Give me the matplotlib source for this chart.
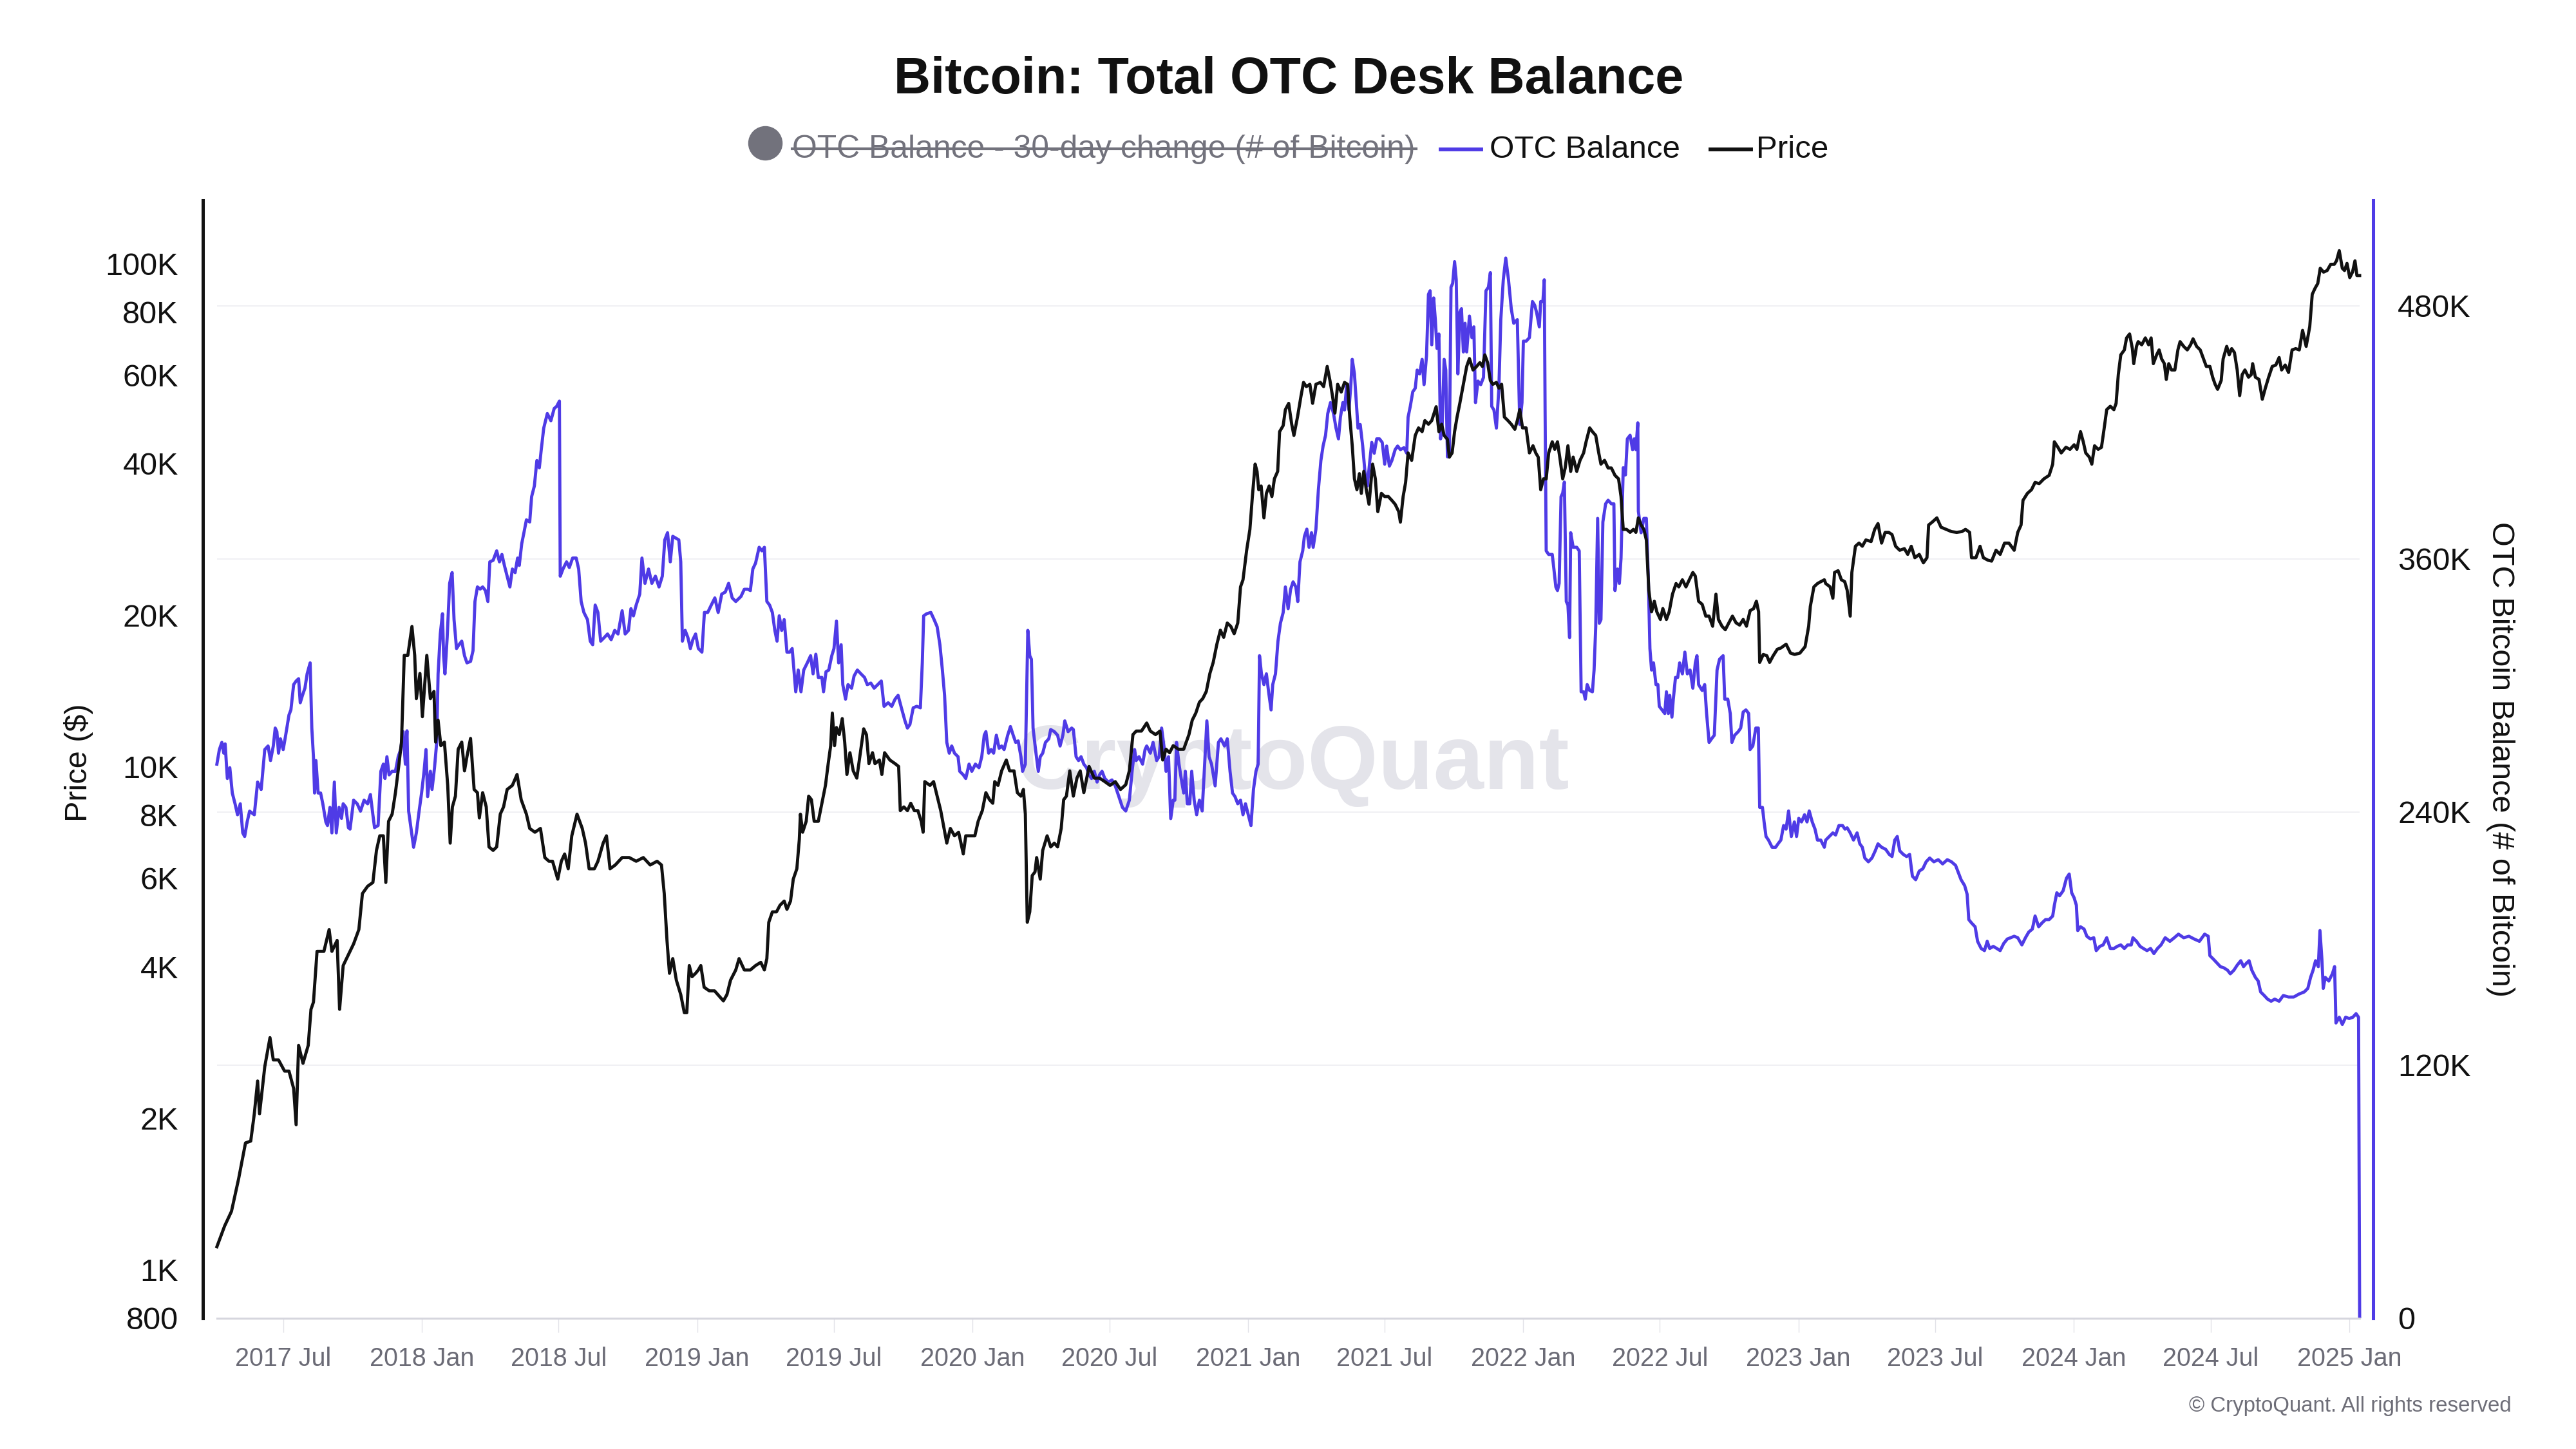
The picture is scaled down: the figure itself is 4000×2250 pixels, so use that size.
import matplotlib
matplotlib.use("Agg")
import matplotlib.pyplot as plt
import matplotlib.dates as mdates
from matplotlib.lines import Line2D
from matplotlib.ticker import FixedLocator, NullLocator
import pandas as pd

plt.rcParams['font.family'] = ['Liberation Sans', 'DejaVu Sans']

# ---------------------------------------------------------------- data
# time as decimal years
price_year = [
    2017.254, 2017.282, 2017.307, 2017.333, 2017.358, 2017.377, 2017.390, 2017.402, 2017.409, 2017.428,
    2017.447, 2017.459, 2017.478, 2017.500, 2017.516, 2017.533, 2017.542, 2017.551, 2017.567, 2017.586,
    2017.596, 2017.605, 2017.618, 2017.643, 2017.662, 2017.672, 2017.691, 2017.700, 2017.713, 2017.738,
    2017.751, 2017.770, 2017.783, 2017.802, 2017.821, 2017.834, 2017.846, 2017.859, 2017.868, 2017.878,
    2017.891, 2017.903, 2017.916, 2017.925, 2017.935, 2017.948, 2017.963, 2017.973, 2017.979, 2017.992,
    2018.001, 2018.017, 2018.030, 2018.043, 2018.049, 2018.058, 2018.068, 2018.081, 2018.093, 2018.102,
    2018.110, 2018.121, 2018.131, 2018.144, 2018.154, 2018.163, 2018.176, 2018.189, 2018.201, 2018.208,
    2018.220, 2018.233, 2018.243, 2018.258, 2018.271, 2018.284, 2018.296, 2018.309, 2018.328, 2018.345,
    2018.360, 2018.379, 2018.391, 2018.410, 2018.430, 2018.446, 2018.461, 2018.474, 2018.493, 2018.506,
    2018.518, 2018.531, 2018.544, 2018.563, 2018.582, 2018.594, 2018.607, 2018.626, 2018.639, 2018.658,
    2018.670, 2018.683, 2018.702, 2018.727, 2018.753, 2018.778, 2018.804, 2018.829, 2018.854, 2018.870,
    2018.880, 2018.890, 2018.899, 2018.911, 2018.924, 2018.940, 2018.953, 2018.962, 2018.971, 2018.981,
    2018.994, 2019.004, 2019.013, 2019.025, 2019.044, 2019.063, 2019.095, 2019.108, 2019.121, 2019.140,
    2019.152, 2019.171,
    2019.193, 2019.212, 2019.231, 2019.244, 2019.253, 2019.260, 2019.273, 2019.288, 2019.301, 2019.316,
    2019.326, 2019.339, 2019.349, 2019.362, 2019.371, 2019.375, 2019.383, 2019.396, 2019.405, 2019.415,
    2019.425, 2019.440, 2019.453, 2019.466, 2019.476, 2019.485, 2019.491, 2019.499, 2019.506, 2019.516,
    2019.527, 2019.536, 2019.544, 2019.555, 2019.567, 2019.580, 2019.593, 2019.605, 2019.615, 2019.624,
    2019.637, 2019.646, 2019.662, 2019.671, 2019.681, 2019.700, 2019.719, 2019.732, 2019.738, 2019.751,
    2019.764, 2019.776, 2019.789, 2019.802, 2019.814, 2019.821, 2019.827, 2019.846, 2019.859, 2019.872,
    2019.885, 2019.897, 2019.907, 2019.920, 2019.935, 2019.950, 2019.967, 2019.976, 2019.992, 2020.009,
    2020.021, 2020.036, 2020.049, 2020.062, 2020.074, 2020.081, 2020.093, 2020.106, 2020.123, 2020.135,
    2020.151, 2020.163, 2020.176, 2020.185, 2020.192, 2020.199, 2020.208, 2020.217, 2020.227, 2020.233,
    2020.246, 2020.255, 2020.271, 2020.284, 2020.297, 2020.309, 2020.322, 2020.331, 2020.341, 2020.353,
    2020.366, 2020.379, 2020.391, 2020.404, 2020.423, 2020.442, 2020.461, 2020.480, 2020.499, 2020.518,
    2020.537, 2020.556, 2020.569, 2020.582, 2020.594, 2020.613, 2020.632, 2020.645, 2020.664, 2020.680,
    2020.690, 2020.702, 2020.715, 2020.728, 2020.747, 2020.766, 2020.785, 2020.797, 2020.810, 2020.823,
    2020.835, 2020.848, 2020.861, 2020.873, 2020.886, 2020.899, 2020.911, 2020.924, 2020.937, 2020.949,
    2020.962, 2020.972, 2020.981, 2020.994, 2021.006, 2021.015, 2021.025, 2021.032, 2021.038, 2021.047,
    2021.057, 2021.066, 2021.076, 2021.086, 2021.095, 2021.107, 2021.114, 2021.127,
    2021.135, 2021.147, 2021.158, 2021.166, 2021.179, 2021.192, 2021.201, 2021.211, 2021.224, 2021.234,
    2021.246, 2021.262, 2021.274, 2021.287, 2021.297, 2021.306, 2021.315, 2021.325, 2021.338, 2021.350,
    2021.361, 2021.369, 2021.378, 2021.386, 2021.395, 2021.404, 2021.411, 2021.420, 2021.429, 2021.439,
    2021.452, 2021.462, 2021.471, 2021.484, 2021.496, 2021.509, 2021.522, 2021.534, 2021.547, 2021.553,
    2021.563, 2021.572, 2021.581, 2021.594, 2021.607, 2021.619, 2021.632, 2021.642, 2021.655, 2021.667,
    2021.683, 2021.693, 2021.703, 2021.712, 2021.724, 2021.731, 2021.741, 2021.750, 2021.759, 2021.769,
    2021.782, 2021.794, 2021.804, 2021.817, 2021.830, 2021.842, 2021.851, 2021.860, 2021.870, 2021.880,
    2021.889, 2021.902, 2021.911, 2021.921, 2021.931, 2021.944, 2021.956, 2021.969, 2021.978, 2021.987,
    2021.997, 2022.010, 2022.022, 2022.035, 2022.045, 2022.054, 2022.063, 2022.073, 2022.083, 2022.092,
    2022.105, 2022.114, 2022.124, 2022.134, 2022.143, 2022.152, 2022.162, 2022.172, 2022.181, 2022.194,
    2022.206, 2022.219, 2022.228, 2022.241, 2022.251, 2022.263, 2022.274, 2022.282, 2022.295, 2022.308,
    2022.320, 2022.333, 2022.346, 2022.355, 2022.363, 2022.375, 2022.388, 2022.400, 2022.409, 2022.418,
    2022.428, 2022.438, 2022.447, 2022.456, 2022.466, 2022.476, 2022.485, 2022.498, 2022.507, 2022.520,
    2022.530, 2022.542, 2022.555, 2022.565, 2022.578, 2022.591, 2022.603, 2022.616, 2022.625, 2022.637,
    2022.650, 2022.663, 2022.675, 2022.688, 2022.700, 2022.709, 2022.722, 2022.734, 2022.747, 2022.760,
    2022.773, 2022.786, 2022.799, 2022.811, 2022.824, 2022.837, 2022.847, 2022.855, 2022.859, 2022.872,
    2022.885, 2022.895, 2022.908, 2022.923, 2022.936, 2022.955, 2022.971, 2022.986, 2023.005, 2023.024,
    2023.037, 2023.043, 2023.056, 2023.069, 2023.081, 2023.094,
    2023.099, 2023.115, 2023.125, 2023.131, 2023.144, 2023.156, 2023.168, 2023.177, 2023.188, 2023.194,
    2023.207, 2023.220, 2023.232, 2023.245, 2023.264, 2023.277, 2023.289, 2023.302, 2023.315, 2023.328,
    2023.340, 2023.353, 2023.368, 2023.385, 2023.397, 2023.410, 2023.423, 2023.439, 2023.454, 2023.467,
    2023.473, 2023.486, 2023.503, 2023.518, 2023.537, 2023.556, 2023.575, 2023.594, 2023.607, 2023.622,
    2023.629, 2023.645, 2023.660, 2023.672, 2023.689, 2023.702, 2023.718, 2023.733, 2023.749, 2023.765,
    2023.784, 2023.797, 2023.809, 2023.816, 2023.832, 2023.847, 2023.860, 2023.875, 2023.892, 2023.911,
    2023.924, 2023.930, 2023.943, 2023.955, 2023.972, 2023.987, 2024.002, 2024.012, 2024.025, 2024.035,
    2024.044, 2024.057, 2024.066, 2024.076, 2024.089, 2024.101, 2024.111, 2024.120, 2024.133, 2024.146,
    2024.154, 2024.162, 2024.171, 2024.184, 2024.192, 2024.203, 2024.213, 2024.218, 2024.228, 2024.234,
    2024.247, 2024.260, 2024.272, 2024.281, 2024.289, 2024.301, 2024.310, 2024.319, 2024.329, 2024.336,
    2024.345, 2024.355, 2024.367, 2024.378, 2024.386, 2024.399, 2024.412, 2024.424, 2024.433, 2024.446,
    2024.459, 2024.469, 2024.481, 2024.494, 2024.504, 2024.513, 2024.522, 2024.535, 2024.542, 2024.555,
    2024.564, 2024.573, 2024.583, 2024.593, 2024.602, 2024.611, 2024.621, 2024.634, 2024.644, 2024.649,
    2024.659, 2024.672, 2024.684, 2024.695, 2024.707, 2024.720, 2024.733, 2024.745, 2024.754, 2024.767,
    2024.779, 2024.792, 2024.805, 2024.818, 2024.830, 2024.843, 2024.856, 2024.865, 2024.875, 2024.885,
    2024.894, 2024.906, 2024.919, 2024.932, 2024.945, 2024.953, 2024.963, 2024.974, 2024.982, 2024.991,
    2025.001, 2025.011, 2025.020, 2025.027, 2025.037,
]
price_usd = [
    1110, 1220, 1305, 1515, 1785, 1800, 2040, 2370, 2040, 2530,
    2890, 2610, 2610, 2480, 2480, 2290, 1940, 2790, 2570, 2790,
    3290, 3400, 4290, 4290, 4740, 4290, 4510, 3290, 4020, 4290,
    4440, 4740, 5590, 5780, 5880, 6810, 7280, 7280, 5880, 7780,
    8040, 8870, 10130, 11180, 16630, 16630, 18980, 16630, 13640, 15310,
    12560, 16630, 13640, 14100, 11180, 12360, 11000, 11180, 9170, 7040,
    8310, 8730, 10820, 11180, 9800, 10470, 11370, 9000, 8870, 7900,
    8870, 8310, 6920, 6810, 6920, 8040, 8310, 9000, 9170, 9640,
    8590, 8040, 7530, 7400, 7530, 6590, 6480, 6480, 5970, 6480,
    6700, 6260, 7280, 8040, 7530, 7040, 6260, 6260, 6480, 7040,
    7280, 6260, 6370, 6590, 6590, 6480, 6590, 6370, 6480, 6370,
    5590, 4510, 3880, 4150, 3760, 3520, 3240, 3240, 4020, 3820,
    3880, 3940, 4020, 3640, 3580, 3580, 3420, 3520, 3760, 3940,
    4150, 3940,
    3940, 4020, 4080, 3940, 4150, 4900, 5140, 5140, 5300, 5400,
    5200, 5400, 5970, 6260, 7160, 8040, 7400, 7780, 8730, 8590,
    7780, 7780, 8450, 9170, 10130, 11000, 12770, 11000, 11950, 11570,
    12450, 11180, 9640, 10650, 9800, 9480, 10650, 11880, 11570, 10130,
    10650, 10130, 10300, 9640, 10650, 10300, 10130, 10000, 8170, 8310,
    8170, 8450, 8170, 8170, 7780, 7400, 9330, 9170, 9330, 8730,
    8170, 7530, 7040, 7530, 7280, 7400, 6700, 7280, 7280, 7280,
    7780, 8170, 8870, 8590, 8450, 9330, 9170, 9800, 10300, 9800,
    9800, 8870, 8730, 9000, 8040, 4900, 5140, 6070, 6170, 6590,
    5970, 6810, 7280, 6920, 7040, 6920, 7530, 8590, 8730, 9800,
    8730, 9480, 9800, 8870, 10000, 9480, 9480, 9330, 9170, 9330,
    9000, 9200, 9800, 11570, 11760, 11760, 12200, 11760, 11570, 11760,
    10300, 10820, 10650, 11000, 10820, 10820, 11570, 12360, 12770, 13420,
    13640, 14100, 15310, 16100, 17470, 18660, 18060, 19280, 18980, 18360,
    19280, 22750, 23500, 26850, 29600, 34400, 39900, 38600, 35500, 36100,
    31200, 34900, 36100, 34400, 37300, 38600, 46300, 47600,
    51200, 52700, 47900, 45500, 49500, 54600, 58000, 56900, 57500, 52700,
    57500, 58000, 56900, 62400, 58500, 54600, 50400, 57500, 55500, 58000,
    57500, 49500, 43400, 37300, 35500, 38200, 34900, 38600, 35500, 33200,
    39900, 37300, 32100, 34900, 34400, 34400, 33800, 33200, 32100, 30600,
    34400, 36700, 42000, 40600, 45500, 47100, 46300, 48700, 47900, 48700,
    51900, 46300, 47900, 45500, 44700, 41200, 42000, 46300, 49500, 52700,
    57500, 62400, 64700, 61400, 62400, 63500, 62400, 65800, 63500, 58500,
    57500, 58000, 56500, 57500, 49500, 48700, 47900, 46800, 48700, 51200,
    47100, 47100, 42000, 43400, 42000, 41200, 35500, 37300, 37300, 42000,
    44200, 42700, 44200, 40600, 37300, 39200, 43400, 38600, 41200, 38600,
    40600, 42000, 44200, 47100, 46300, 45500, 42000, 39900, 40600, 39200,
    39200, 37900, 37300, 34400, 29600, 29600, 29200, 29600, 29200, 31200,
    30200, 29600, 28200, 22400, 20300, 21300, 20300, 19600, 20600, 19600,
    20300, 22000, 23100, 22750, 23500, 22750, 23500, 24300, 23900, 21300,
    21000, 19900, 19900, 19000, 22000, 19600, 19000, 18700, 19300, 19900,
    19300, 19100, 19600, 19000, 20400, 20600, 21300, 20300, 16100, 16700,
    16600, 16100, 16600, 17100, 17200, 17500, 16800, 16700, 16800, 17300,
    19000, 20800, 22750, 23100, 23300, 23500,
    23100, 22750, 21600, 24300, 24500, 23500, 23300, 22400, 19900, 24300,
    27400, 27800, 27400, 28200, 28000, 29600, 30400, 27800, 29200, 29200,
    28900, 27400, 26900, 27100, 26400, 27400, 26000, 26400, 25400, 26000,
    30200, 30600, 31200, 29900, 29600, 29300, 29200, 29300, 29600, 29200,
    26000, 26000, 27400, 26000, 25700, 25600, 26900, 26400, 27800, 27800,
    26900, 29200, 30200, 33800, 34900, 35500, 36700, 36500, 37300, 37900,
    39900, 44200, 43100, 42000, 43100, 42700, 43600, 42700, 46300, 44200,
    42000, 41200, 39900, 43400, 42700, 43100, 47100, 51200, 52000, 51200,
    52700, 60100, 65800, 67300, 71100, 72400, 67700, 63200, 68400, 69900,
    68900, 71100, 68900, 71100, 63200, 65800, 67300, 64600, 63200, 58800,
    63200, 61400, 61400, 67300, 69900, 68400, 67300, 68900, 70800, 68400,
    67300, 65000, 62400, 62400, 59400, 57500, 56200, 58500, 64600, 68400,
    65800, 67700, 66500, 61400, 54600, 60100, 61400, 59400, 60100, 63200,
    59400, 58800, 53700, 56500, 59400, 62400, 62800, 65000, 61400, 62800,
    60700, 67300, 67700, 67300, 73600, 68400, 74900, 86800, 89200, 91200,
    97800, 96100, 96800, 99600, 99600, 101200, 106000, 97800, 96800, 100000,
    93700, 96100, 101200, 94600, 94600,
]

otc_year = [
    2017.254, 2017.263, 2017.272, 2017.279, 2017.284, 2017.292, 2017.301, 2017.310, 2017.320, 2017.329,
    2017.339, 2017.348, 2017.355, 2017.364, 2017.373, 2017.390, 2017.402, 2017.415, 2017.428, 2017.440,
    2017.449, 2017.459, 2017.466, 2017.472, 2017.478, 2017.485, 2017.495, 2017.504, 2017.516, 2017.523,
    2017.533, 2017.542, 2017.551, 2017.557, 2017.565, 2017.574, 2017.582, 2017.593, 2017.599, 2017.605,
    2017.609, 2017.614, 2017.622, 2017.631, 2017.639, 2017.650, 2017.656, 2017.665, 2017.672, 2017.681,
    2017.688, 2017.698, 2017.707, 2017.713, 2017.723, 2017.732, 2017.738, 2017.751, 2017.764, 2017.776,
    2017.789, 2017.802, 2017.812, 2017.821, 2017.827, 2017.840, 2017.850, 2017.859, 2017.865, 2017.872,
    2017.880, 2017.891, 2017.903, 2017.913, 2017.922, 2017.931, 2017.939, 2017.945, 2017.951, 2017.960,
    2017.969, 2017.979, 2017.989, 2017.998, 2018.007, 2018.014, 2018.020, 2018.030, 2018.036, 2018.045,
    2018.053, 2018.058, 2018.066, 2018.074, 2018.078, 2018.083, 2018.091, 2018.100, 2018.109, 2018.116,
    2018.125, 2018.134, 2018.144, 2018.154, 2018.163, 2018.176, 2018.185, 2018.192, 2018.201, 2018.211,
    2018.220, 2018.230, 2018.239, 2018.246, 2018.258, 2018.271, 2018.281, 2018.290, 2018.299, 2018.309,
    2018.319, 2018.328, 2018.338, 2018.347, 2018.353, 2018.362, 2018.370, 2018.379, 2018.391, 2018.398,
    2018.408, 2018.417, 2018.426, 2018.433, 2018.442, 2018.455, 2018.468, 2018.480, 2018.489, 2018.499,
    2018.502, 2018.512, 2018.525, 2018.535, 2018.547, 2018.560, 2018.569, 2018.578, 2018.588, 2018.601,
    2018.611, 2018.620, 2018.629, 2018.639, 2018.649, 2018.662, 2018.674, 2018.687, 2018.700, 2018.712,
    2018.727, 2018.738, 2018.750, 2018.759, 2018.768, 2018.778, 2018.791, 2018.799, 2018.810, 2018.823,
    2018.835, 2018.848, 2018.861, 2018.873, 2018.882, 2018.892, 2018.902, 2018.911, 2018.924, 2018.933,
    2018.940, 2018.946, 2018.956, 2018.966, 2018.975, 2018.984, 2018.994, 2019.004, 2019.017, 2019.026,
    2019.038, 2019.051, 2019.064, 2019.076, 2019.089, 2019.102, 2019.114, 2019.127, 2019.140, 2019.159,
    2019.171,
    2019.184, 2019.193, 2019.202, 2019.212, 2019.225, 2019.235, 2019.244, 2019.253, 2019.263, 2019.273,
    2019.282, 2019.290, 2019.298, 2019.307, 2019.316, 2019.326, 2019.336, 2019.345, 2019.358, 2019.367,
    2019.377, 2019.387, 2019.400, 2019.412, 2019.421, 2019.431, 2019.440, 2019.453, 2019.459, 2019.468,
    2019.478, 2019.489, 2019.497, 2019.506, 2019.514, 2019.523, 2019.529, 2019.539, 2019.548, 2019.561,
    2019.570, 2019.582, 2019.595, 2019.608, 2019.618, 2019.631, 2019.643, 2019.656, 2019.669, 2019.679,
    2019.694, 2019.707, 2019.719, 2019.730, 2019.742, 2019.755, 2019.764, 2019.773, 2019.785, 2019.798,
    2019.811, 2019.818, 2019.823, 2019.834, 2019.849, 2019.861, 2019.872, 2019.882, 2019.891, 2019.899,
    2019.907, 2019.916, 2019.925, 2019.935, 2019.948, 2019.954, 2019.967, 2019.976, 2019.988, 2019.998,
    2020.011, 2020.024, 2020.034, 2020.043, 2020.049, 2020.059, 2020.068, 2020.077, 2020.087, 2020.097,
    2020.106, 2020.115, 2020.128, 2020.138, 2020.148, 2020.157, 2020.166, 2020.176, 2020.182, 2020.192,
    2020.201, 2020.208, 2020.214, 2020.220, 2020.229, 2020.239, 2020.246, 2020.255, 2020.265, 2020.277,
    2020.284, 2020.297, 2020.309, 2020.318, 2020.328, 2020.335, 2020.347, 2020.360, 2020.366, 2020.376,
    2020.385, 2020.394, 2020.404, 2020.414, 2020.423, 2020.432, 2020.442, 2020.452, 2020.461, 2020.470,
    2020.480, 2020.493, 2020.506, 2020.518, 2020.531, 2020.544, 2020.556, 2020.569, 2020.579, 2020.588,
    2020.594, 2020.604, 2020.617, 2020.626, 2020.632, 2020.645, 2020.655, 2020.668, 2020.677, 2020.686,
    2020.696, 2020.702, 2020.711, 2020.719, 2020.728, 2020.734, 2020.740, 2020.749, 2020.757, 2020.766,
    2020.772, 2020.779, 2020.788, 2020.795, 2020.804, 2020.813, 2020.823, 2020.833, 2020.842, 2020.850,
    2020.858, 2020.867, 2020.880, 2020.892, 2020.901, 2020.914, 2020.924, 2020.934, 2020.943, 2020.952,
    2020.962, 2020.972, 2020.981, 2020.990, 2021.000, 2021.010, 2021.019, 2021.028, 2021.036, 2021.041,
    2021.048, 2021.057, 2021.066, 2021.074, 2021.083, 2021.089, 2021.099, 2021.108, 2021.117, 2021.127,
    2021.135, 2021.145, 2021.154, 2021.163, 2021.173, 2021.180, 2021.188, 2021.198, 2021.204, 2021.213,
    2021.221, 2021.230, 2021.236, 2021.246, 2021.255, 2021.264, 2021.272, 2021.281, 2021.289, 2021.299,
    2021.310, 2021.319, 2021.328, 2021.335, 2021.344, 2021.350, 2021.358, 2021.366, 2021.373, 2021.378,
    2021.386, 2021.392, 2021.399, 2021.407, 2021.416, 2021.424, 2021.433, 2021.442, 2021.449, 2021.458,
    2021.467, 2021.477, 2021.487, 2021.496, 2021.503, 2021.513, 2021.522, 2021.534, 2021.543, 2021.553,
    2021.566, 2021.576, 2021.581, 2021.589, 2021.598, 2021.607, 2021.614, 2021.623, 2021.632, 2021.639,
    2021.648, 2021.655, 2021.661, 2021.667, 2021.674, 2021.680, 2021.686, 2021.693, 2021.699, 2021.705,
    2021.712, 2021.718, 2021.724, 2021.731, 2021.737, 2021.743, 2021.750, 2021.756, 2021.762, 2021.769,
    2021.775, 2021.782, 2021.788, 2021.794, 2021.804, 2021.813, 2021.820, 2021.826, 2021.835, 2021.845,
    2021.855, 2021.864, 2021.873, 2021.880, 2021.885, 2021.893, 2021.902, 2021.911, 2021.918, 2021.927,
    2021.936, 2021.946, 2021.956, 2021.965, 2021.978, 2021.987, 2021.995, 2022.000, 2022.010, 2022.022,
    2022.033, 2022.041, 2022.048, 2022.058, 2022.063, 2022.071, 2022.076, 2022.079, 2022.083, 2022.092,
    2022.105, 2022.111, 2022.118, 2022.124, 2022.130, 2022.137, 2022.143, 2022.149, 2022.156, 2022.162,
    2022.168, 2022.172, 2022.181, 2022.194, 2022.203, 2022.210, 2022.219, 2022.225, 2022.232, 2022.241,
    2022.251, 2022.257, 2022.263, 2022.270, 2022.276, 2022.282, 2022.289, 2022.299, 2022.308, 2022.320,
    2022.329, 2022.333, 2022.342, 2022.349, 2022.355, 2022.363, 2022.371, 2022.378, 2022.388, 2022.397,
    2022.403, 2022.409, 2022.416, 2022.418, 2022.428, 2022.438, 2022.447, 2022.454, 2022.460, 2022.466,
    2022.473, 2022.482, 2022.489, 2022.494, 2022.504, 2022.514, 2022.520, 2022.527, 2022.532, 2022.540,
    2022.545, 2022.553, 2022.561, 2022.568, 2022.578, 2022.587, 2022.596, 2022.606, 2022.616, 2022.625,
    2022.631, 2022.637, 2022.650, 2022.659, 2022.666, 2022.675, 2022.684, 2022.694, 2022.704, 2022.713,
    2022.726, 2022.732, 2022.743, 2022.752, 2022.758, 2022.768, 2022.781, 2022.790, 2022.799, 2022.809,
    2022.819, 2022.824, 2022.834, 2022.845, 2022.854, 2022.859, 2022.869, 2022.875, 2022.882, 2022.891,
    2022.904, 2022.917, 2022.926, 2022.936, 2022.946, 2022.955, 2022.964, 2022.974, 2022.985, 2022.993,
    2023.001, 2023.011, 2023.022, 2023.031, 2023.039, 2023.050, 2023.060, 2023.069, 2023.081, 2023.094,
    2023.099, 2023.112, 2023.125, 2023.135, 2023.147, 2023.160, 2023.169, 2023.177, 2023.188, 2023.200,
    2023.213, 2023.223, 2023.232, 2023.241, 2023.254, 2023.267, 2023.279, 2023.289, 2023.302, 2023.317,
    2023.330, 2023.340, 2023.350, 2023.359, 2023.368, 2023.381, 2023.393, 2023.404, 2023.414, 2023.426,
    2023.439, 2023.452, 2023.464, 2023.477, 2023.492, 2023.508, 2023.524, 2023.541, 2023.556, 2023.571,
    2023.581, 2023.591, 2023.604, 2023.613, 2023.619, 2023.629, 2023.642, 2023.651, 2023.664, 2023.676,
    2023.686, 2023.695, 2023.708, 2023.721, 2023.733, 2023.746, 2023.759, 2023.771, 2023.784, 2023.797,
    2023.812, 2023.825, 2023.837, 2023.850, 2023.860, 2023.873, 2023.885, 2023.898, 2023.911, 2023.924,
    2023.930, 2023.939, 2023.949, 2023.962, 2023.974, 2023.984, 2023.993, 2024.002, 2024.010, 2024.015,
    2024.025, 2024.038, 2024.048, 2024.061, 2024.073, 2024.082, 2024.095, 2024.107, 2024.120, 2024.133,
    2024.146, 2024.158, 2024.171, 2024.184, 2024.196, 2024.209, 2024.215, 2024.228, 2024.241, 2024.253,
    2024.266, 2024.279, 2024.291, 2024.304, 2024.317, 2024.332, 2024.349, 2024.365, 2024.380, 2024.399,
    2024.418, 2024.437, 2024.456, 2024.475, 2024.488, 2024.494, 2024.507, 2024.520, 2024.532, 2024.545,
    2024.558, 2024.568, 2024.581, 2024.593, 2024.606, 2024.616, 2024.627, 2024.636, 2024.646, 2024.659,
    2024.669, 2024.678, 2024.691, 2024.703, 2024.716, 2024.729, 2024.745, 2024.760, 2024.779, 2024.798,
    2024.817, 2024.836, 2024.849, 2024.859, 2024.868, 2024.877, 2024.887, 2024.893, 2024.900, 2024.905,
    2024.912, 2024.925, 2024.938, 2024.946, 2024.951, 2024.963, 2024.974, 2024.986, 2024.999, 2025.012,
    2025.024, 2025.033, 2025.037,
]
otc_btc = [
    262.7, 269.6, 273.0, 267.9, 272.3, 255.9, 261.0, 249.0, 243.9, 238.7,
    243.9, 230.1, 228.4, 235.3, 240.4, 238.7, 254.2, 250.7, 269.6, 271.3,
    264.4, 271.3, 279.8, 278.1, 267.9, 274.7, 269.6, 276.4, 286.0, 288.4,
    300.4, 302.1, 303.2, 291.8, 295.3, 298.7, 305.5, 310.7, 279.8, 266.2,
    249.0, 264.4, 249.0, 249.0, 243.9, 235.3, 233.6, 242.2, 230.1, 254.2,
    230.1, 242.2, 237.0, 243.9, 242.2, 232.6, 231.9, 245.6, 243.9, 240.4,
    245.6, 243.9, 248.3, 238.7, 232.6, 233.6, 259.3, 262.7, 255.9, 266.2,
    257.6, 259.3, 259.3, 266.2, 269.6, 278.1, 262.7, 278.5, 240.4, 231.9,
    223.3, 230.1, 240.4, 249.0, 259.3, 269.6, 247.3, 259.3, 250.7, 261.0,
    273.0, 305.5, 324.4, 334.0, 314.1, 305.5, 322.7, 348.4, 353.5, 331.2,
    317.5, 319.3, 321.0, 314.1, 310.7, 311.4, 316.5, 339.8, 346.7, 345.7,
    346.7, 345.0, 339.8, 358.6, 359.3, 363.8, 358.6, 362.1, 356.9, 351.8,
    346.7, 355.2, 353.5, 360.4, 356.9, 367.2, 372.4, 378.5, 377.5, 389.5,
    394.6, 406.6, 403.2, 411.8, 422.0, 428.9, 425.5, 431.3, 432.3, 434.8,
    351.8, 355.2, 358.6, 355.9, 360.4, 360.4, 355.2, 339.8, 334.6, 331.2,
    321.0, 319.3, 338.1, 334.6, 321.0, 322.7, 324.4, 321.7, 326.1, 324.4,
    335.4, 324.4, 326.1, 336.4, 333.0, 338.1, 343.3, 360.4, 348.4, 355.2,
    348.4, 351.8, 346.7, 351.8, 369.0, 372.4, 358.6, 370.7, 369.7, 369.0,
    358.6, 321.0, 326.1, 322.7, 317.5, 321.7, 324.4, 317.5, 315.8, 334.6,
    334.6, 338.1, 341.5, 334.6, 343.3, 344.3, 348.4, 341.5, 339.8, 342.2,
    345.6,
    345.6, 345.0, 355.2, 358.0, 365.5, 363.8, 365.5, 339.8, 338.1, 334.6,
    326.1, 321.0, 333.0, 326.1, 331.2, 315.8, 315.8, 317.5, 297.0, 307.3,
    297.0, 307.3, 310.7, 314.1, 305.5, 314.8, 303.8, 303.8, 297.0, 306.5,
    307.3, 314.1, 317.5, 330.5, 310.7, 319.3, 300.4, 293.5, 300.4, 298.7,
    304.5, 307.3, 305.5, 303.8, 300.4, 301.1, 298.7, 300.4, 302.1, 290.1,
    291.8, 290.1, 293.5, 295.3, 289.4, 283.2, 279.8, 281.5, 289.4, 290.1,
    289.4, 310.7, 333.0, 334.0, 334.6, 331.2, 327.8, 319.3, 307.3, 295.3,
    273.0, 267.9, 271.3, 267.9, 266.2, 259.3, 257.6, 255.9, 262.7, 259.3,
    262.7, 261.0, 266.2, 276.4, 278.1, 267.9, 269.6, 267.9, 276.4, 270.2,
    271.3, 269.6, 276.4, 280.5, 276.4, 273.0, 273.7, 266.2, 259.3, 262.7,
    326.1, 314.1, 312.4, 279.8, 269.6, 259.3, 266.2, 267.9, 273.0, 274.7,
    279.1, 278.1, 276.4, 271.3, 276.4, 283.2, 278.1, 279.8, 279.1, 266.2,
    264.4, 266.2, 262.7, 261.0, 257.6, 255.9, 259.3, 254.2, 257.6, 259.3,
    255.9, 254.2, 255.2, 252.4, 247.3, 242.2, 240.5, 245.6, 259.3, 269.6,
    264.4, 266.2, 262.7, 269.6, 271.3, 267.9, 273.0, 264.4, 266.2, 279.8,
    269.6, 259.3, 266.2, 236.9, 245.6, 245.6, 273.0, 262.7, 255.9, 249.0,
    259.3, 243.9, 243.9, 259.3, 245.6, 238.7, 245.6, 240.5, 262.7, 283.2,
    266.2, 262.7, 252.4, 273.0, 274.7, 271.3, 274.7, 259.3, 249.0, 247.3,
    243.9, 245.6, 238.7, 243.9, 238.7, 233.6, 250.7, 259.3, 262.7, 314.1,
    305.5, 300.4, 305.5, 297.0, 288.4, 300.4, 305.5, 321.0, 329.5, 334.6,
    346.7, 336.4, 345.6, 349.1, 346.7, 339.8, 358.6, 363.8, 370.6, 374.1,
    365.5, 372.4, 365.5, 374.1, 392.9, 406.6, 413.5, 418.6, 428.9, 434.1,
    428.9, 422.0, 416.9, 427.2, 434.1, 430.6, 442.6, 430.6, 442.6, 454.6,
    447.7, 435.8, 422.0, 423.7, 413.5, 401.5, 394.6, 406.6, 415.2, 410.1,
    416.9, 416.9, 415.2, 404.9, 413.5, 404.0, 406.6, 411.8, 413.5, 411.8,
    412.7, 410.1, 427.2, 432.3, 439.2, 440.9, 449.5, 447.7, 454.6, 442.6,
    456.3, 485.4, 487.1, 461.5, 483.7, 473.4, 459.8, 466.6, 416.9, 423.7,
    454.6, 449.5, 408.4, 410.1, 488.8, 490.6, 500.9, 492.3, 447.7, 476.9,
    478.6, 458.1, 471.7, 458.1, 475.1, 464.9, 470.0, 434.1, 444.3, 442.6,
    446.0, 487.1, 488.8, 495.7, 432.3, 430.6, 422.0, 440.9, 473.4, 492.3,
    502.6, 492.3, 478.6, 471.7, 473.4, 423.7, 434.1, 463.2, 463.2, 464.9,
    482.0, 480.3, 476.9, 470.0, 482.0, 482.0, 492.3, 430.6, 363.8, 362.1,
    362.1, 355.2, 346.7, 345.0, 348.4, 389.5, 391.2, 396.4, 339.8, 338.1,
    322.7, 372.4, 365.5, 365.5, 363.8, 297.0, 297.0, 293.5, 300.4, 297.6,
    297.0, 307.3, 327.8, 379.2, 329.5, 331.2, 377.5, 386.1, 387.8, 386.1,
    386.1, 345.0, 355.2, 348.4, 360.4, 403.2, 399.8, 416.9, 418.6, 411.8,
    416.9, 411.8, 424.5, 382.6, 372.4, 379.2, 379.2, 351.8, 317.5, 307.3,
    310.7, 300.4, 300.4, 290.1, 288.4, 286.7, 297.0, 286.7, 295.3, 285.0,
    293.5, 303.8, 303.8, 310.7, 305.5, 315.8, 305.5, 307.3, 298.7, 310.7,
    314.1, 300.4, 297.6, 300.4, 286.7, 273.0, 274.7, 276.4, 307.3, 312.4,
    314.1, 293.5, 293.5, 286.7, 273.0, 276.4, 278.1, 279.8, 287.4, 288.4,
    286.7, 269.6, 271.3, 279.8, 279.8, 242.2, 242.2, 235.3, 228.4, 226.7,
    223.3, 223.3, 225.0, 226.7, 233.6, 231.9, 240.5, 228.4, 235.3, 228.4,
    237.0, 235.3, 238.7, 235.3, 240.5, 235.3, 231.9, 226.7, 226.7, 223.3,
    226.7, 228.4, 230.1, 229.1, 233.6, 233.6, 231.9, 232.5, 230.1, 226.7,
    230.1, 224.9, 223.3, 218.2, 216.4, 218.2, 221.6, 224.9, 223.3, 222.3,
    219.9, 218.9, 226.7, 228.4, 221.6, 219.9, 218.9, 219.9, 209.6, 207.9,
    212.0, 213.1, 216.4, 218.2, 216.4, 217.4, 215.4, 217.4, 216.4, 214.7,
    211.3, 207.9, 205.1, 201.0, 189.0, 187.4, 185.6, 178.7, 175.3, 174.3,
    178.7, 175.3, 176.3, 175.3, 174.3, 177.7, 179.8, 180.4, 181.1, 180.4,
    177.0, 180.4, 183.1, 184.5, 190.7, 185.6, 187.4, 189.0, 189.0, 190.7,
    195.8, 201.7, 200.3, 202.7, 208.6, 210.6, 201.7, 199.3, 195.8, 183.8,
    185.6, 184.5, 181.1, 179.8, 180.4, 174.3, 176.3, 177.0, 180.4, 175.3,
    175.3, 176.3, 177.0, 175.3, 177.0, 177.0, 180.4, 178.7, 176.3, 175.3,
    174.3, 175.3, 172.9, 175.3, 177.0, 180.4, 178.7, 180.4, 182.1, 180.4,
    181.1, 179.8, 178.7, 182.1, 181.1, 171.9, 170.2, 168.4, 166.7, 166.1,
    165.0, 163.3, 165.0, 167.4, 169.5, 166.7, 168.4, 169.5, 165.0, 161.6,
    159.9, 154.7, 153.0, 151.3, 150.3, 151.3, 150.3, 153.0, 152.3, 152.3,
    153.7, 154.7, 156.4, 161.6, 165.0, 169.5, 166.7, 183.8, 170.2, 156.4,
    161.6, 159.9, 163.3, 166.7, 140.0, 142.7, 139.3, 142.7, 142.1, 142.7,
    144.4, 142.7, 0.0,
]
otc_btc = [v * 1000 for v in otc_btc]

price_ticks = [800, 1000, 2000, 4000, 6000, 8000, 10000, 20000, 40000, 60000, 80000, 100000]
price_tick_labels = ['800', '1K', '2K', '4K', '6K', '8K', '10K', '20K', '40K', '60K', '80K', '100K']
otc_ticks = [0, 120000, 240000, 360000, 480000]
otc_tick_labels = ['0', '120K', '240K', '360K', '480K']
x_tick_labels = ['2017 Jul', '2018 Jan', '2018 Jul', '2019 Jan', '2019 Jul', '2020 Jan',
                 '2020 Jul', '2021 Jan', '2021 Jul', '2022 Jan', '2022 Jul', '2023 Jan',
                 '2023 Jul', '2024 Jan', '2024 Jul', '2025 Jan']


def to_dates(years):
    out = []
    for y in years:
        yr = int(y)
        start = pd.Timestamp(yr, 1, 1)
        n = (pd.Timestamp(yr + 1, 1, 1) - start).days
        out.append(start + pd.Timedelta(days=(y - yr) * n))
    return out


price_dates = to_dates(price_year)
otc_dates = to_dates(otc_year)
x_ticks = [pd.Timestamp(int(s[:4]), 7 if s.endswith('Jul') else 1, 1) for s in x_tick_labels]

BLUE = '#4f3be6'
BLACK = '#111111'
GRAY = '#72727c'

W, H = 4000, 2250


def fx(px):
    return px / W


def fy(py):
    return 1 - py / H


fig = plt.figure(figsize=(16, 9), dpi=250)
fig.patch.set_facecolor('white')

ax = fig.add_axes([fx(315), fy(2047), fx(3685) - fx(315), fy(311) - fy(2047)])
ax2 = ax.twinx()
ax.set_zorder(ax2.get_zorder() + 1)
ax.patch.set_visible(False)
ax2.patch.set_visible(False)

# OTC balance on the right axis
ax2.plot(otc_dates, otc_btc, color=BLUE, lw=1.4, solid_joinstyle='round')
ax2.set_ylim(0, 530000)
ax2.yaxis.set_major_locator(FixedLocator(otc_ticks))
ax2.set_yticklabels(otc_tick_labels)
ax2.hlines(otc_ticks[1:], price_dates[0], price_dates[-1], colors='#f0f0f4', lw=0.6, zorder=0)

# price on the left axis (log)
ax.plot(price_dates, price_usd, color=BLACK, lw=1.4, solid_joinstyle='round')
ax.set_yscale('log')
ax.set_ylim(800, 133500)
ax.yaxis.set_major_locator(FixedLocator(price_ticks))
ax.yaxis.set_minor_locator(NullLocator())
ax.set_yticklabels(price_tick_labels)

ax.set_xlim(to_dates([2017.203, 2025.086]))
ax.set_xticks(x_ticks)
ax.set_xticklabels(x_tick_labels)

for s in ['top', 'right']:
    ax.spines[s].set_visible(False)
for s in ['top', 'left', 'bottom']:
    ax2.spines[s].set_visible(False)
ax.spines['left'].set_color(BLACK)
ax.spines['left'].set_linewidth(1.45)
ax2.spines['right'].set_color(BLUE)
ax2.spines['right'].set_linewidth(1.45)
ax.spines['bottom'].set_color('#d6d6de')
ax.spines['bottom'].set_linewidth(0.9)
ax.spines['bottom'].set_bounds(mdates.date2num(price_dates[0]), mdates.date2num(price_dates[-1]))

ax.tick_params(axis='x', length=6.3, width=0.4, color='#e2e2e8', pad=6.5,
               labelsize=11.4, labelcolor='#6b6b76')
ax.tick_params(axis='y', length=0, pad=11, labelsize=14, labelcolor=BLACK)
ax2.tick_params(axis='y', length=0, pad=11, labelsize=14, labelcolor=BLACK)

# axis titles
fig.text(fx(122), fy(1184), 'Price ($)', rotation=90, ha='center', va='center',
         fontsize=14, color=BLACK)
fig.text(fx(3882), fy(1179), 'OTC Bitcoin Balance (# of Bitcoin)', rotation=270,
         ha='center', va='center', fontsize=14, color=BLACK)

# title
fig.text(fx(2001), fy(145), 'Bitcoin: Total OTC Desk Balance', ha='center', va='baseline',
         fontsize=22.8, fontweight='bold', color=BLACK)

# legend drawn by hand
fig.add_artist(Line2D([fx(1188)], [fy(222)], marker='o', markersize=14.4,
                      color=GRAY, linestyle='none'))
fig.text(fx(1230), fy(245), 'OTC Balance - 30-day change (# of Bitcoin)', ha='left',
         va='baseline', fontsize=14.35, color=GRAY)
fig.add_artist(Line2D([fx(1230), fx(2199)], [fy(231), fy(231)], color=GRAY, lw=1.2))
fig.add_artist(Line2D([fx(2237), fx(2300)], [fy(232), fy(232)], color=BLUE, lw=1.7))
fig.text(fx(2313), fy(245), 'OTC Balance', ha='left', va='baseline', fontsize=14.2, color=BLACK)
fig.add_artist(Line2D([fx(2656), fx(2719)], [fy(232), fy(232)], color=BLACK, lw=1.7))
fig.text(fx(2727), fy(245), 'Price', ha='left', va='baseline', fontsize=14.2, color=BLACK)

# watermark + credit
fig.text(fx(2007), fy(1225), 'CryptoQuant', ha='center', va='baseline', fontsize=40.5,
         fontweight='bold', color='#e4e4ea', zorder=-1)
fig.text(fx(3900), fy(2192), '\u00a9 CryptoQuant. All rights reserved', ha='right',
         va='baseline', fontsize=9.5, color='#6e6e78')

fig.savefig('out.png', dpi=250)
